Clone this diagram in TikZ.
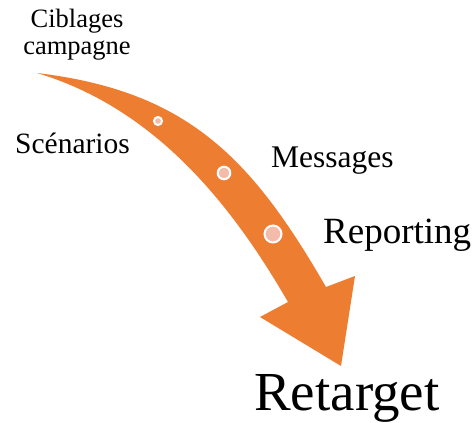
\documentclass[tikz,border=0pt]{standalone}
\usepackage{fontspec}
\setmainfont{Liberation Serif}
\definecolor{arroworange}{HTML}{ED7D31}
\definecolor{dotpink}{HTML}{F3BCAA}
\begin{document}
\begin{tikzpicture}[x=1pt,y=-1pt,
  label/.style={inner sep=0pt, text=black},
  waypoint/.style={fill=dotpink, draw=white, line width=2pt}]
\useasboundingbox (0,0) rectangle (475,423);

% curved shaft and head of the arrow
\fill[arroworange]
  (37,73) .. controls (187,91) and (251,157) .. (326,287)
  -- (355,276) -- (341,366) -- (260,317) -- (288,302)
  .. controls (233,207) and (157,109) .. (37,73) -- cycle;

% points along the path
\path[waypoint] (158,121) circle (4);
\path[waypoint] (224,173) circle (6.3);
\path[waypoint] (273,234) circle (8.5);

% stage labels
\node[label, align=center, anchor=center, font=\fontsize{26.5}{27}\selectfont]
  (ciblage) at (77,35) {Ciblages\\campagne};
\node[label, anchor=base west, font=\fontsize{29.5}{31}\selectfont]
  (scenario) at (15,153) {Scénarios};
\node[label, anchor=base west, font=\fontsize{31.5}{33}\selectfont]
  (message) at (271,167) {Messages};
\node[label, anchor=base west, font=\fontsize{37}{39}\selectfont]
  (report) at (323,243) {Reporting};
\node[label, anchor=base west, font=\fontsize{55}{57}\selectfont]
  (retarget) at (254,410) {Retarget};
\end{tikzpicture}
\end{document}
